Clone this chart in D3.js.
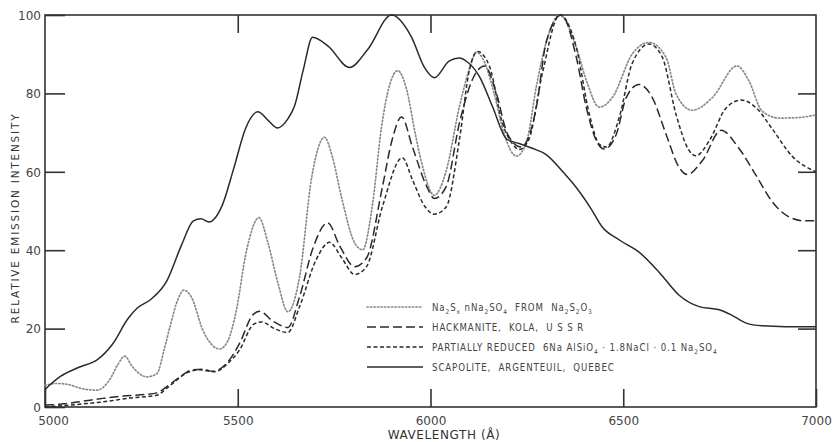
<!DOCTYPE html>
<html>
<head>
<meta charset="utf-8">
<script src="https://cdn.jsdelivr.net/npm/d3@7"></script>
<style>
  body { margin: 0; background: #fff; }
  svg { display: block; }
  .tick text { font-family: "DejaVu Sans", sans-serif; font-size: 12px; fill: #444; }
  .tick line { stroke: #333; stroke-width: 1.6; }
  .label { font-family: "DejaVu Sans", sans-serif; fill: #333; }
  .legend text { font-family: "DejaVu Sans Condensed", "DejaVu Sans", sans-serif; font-size: 9.6px; fill: #444; letter-spacing: 0.9px; }
</style>
</head>
<body>
<svg width="836" height="442"></svg>
<script>
// values, [wavelength in Å, relative intensity]
const scapolite = [
  [5000, 4.5], [5040, 7.8], [5090, 10.2], [5135, 12], [5175, 16], [5215, 22.5],
  [5240, 25.3], [5275, 27.5], [5315, 32], [5355, 41.5], [5385, 47.5], [5405, 48],
  [5425, 47.2], [5460, 51.5], [5490, 61], [5520, 71], [5552, 75.3], [5580, 73],
  [5603, 71.2], [5630, 73.5], [5648, 77], [5670, 86], [5694, 94.3], [5735, 92],
  [5790, 86.6], [5837, 91.2], [5899, 100], [5950, 94.5], [5985, 86.5], [6010, 84],
  [6049, 88.3], [6075, 89], [6093, 88.2], [6127, 84.3], [6161, 76.6], [6197, 68.4],
  [6230, 67.2], [6264, 66], [6300, 64.4], [6347, 59.6], [6370, 57], [6417, 50.5],
  [6445, 46], [6490, 42.6], [6541, 39.5], [6593, 34.4], [6645, 28.5], [6697, 25.6],
  [6749, 24.8], [6780, 23.5], [6819, 21.4], [6860, 20.7], [6920, 20.5], [7000, 20.5]
];

const sulfide = [
  [5000, 5.5], [5030, 6], [5057, 5.8], [5100, 4.6], [5135, 4.3], [5168, 7],
  [5190, 11], [5207, 13], [5225, 10.5], [5264, 7.7], [5290, 8.5], [5310, 15],
  [5324, 20.4], [5345, 27.5], [5360, 29.8], [5380, 28], [5410, 19.5], [5453, 14.8],
  [5475, 17], [5495, 24], [5523, 40], [5555, 48.3], [5578, 42], [5604, 31.7],
  [5630, 24.3], [5660, 33], [5692, 58.7], [5725, 68.8], [5745, 64], [5769, 53.6],
  [5803, 41.9], [5824, 40.1], [5850, 52], [5873, 71.5], [5915, 85.8], [5938, 81],
  [5960, 70], [5977, 62.3], [6010, 54], [6040, 60], [6075, 76.6], [6100, 86],
  [6119, 90.5], [6140, 88], [6165, 80], [6190, 70], [6223, 64], [6250, 68],
  [6275, 82], [6300, 93], [6335, 100], [6378, 91.8], [6404, 83.4], [6438, 76.5],
  [6472, 79], [6523, 90], [6567, 93], [6611, 89.2], [6637, 79.8], [6679, 75.7],
  [6731, 78.9], [6795, 87], [6826, 83.2], [6860, 75.5], [6904, 73.7], [6950, 73.8],
  [7000, 74.5]
];

const hackmanite = [
  [5000, 0.5], [5050, 0.8], [5100, 1.5], [5150, 2.2], [5200, 2.8], [5260, 3.2],
  [5290, 3.6], [5316, 5.2], [5350, 7.7], [5383, 9.5], [5410, 9.6], [5435, 9.1],
  [5472, 11.2], [5505, 16.3], [5539, 23.5], [5557, 24.4], [5590, 22], [5630, 20.3],
  [5660, 28], [5695, 40.5], [5733, 47], [5765, 41], [5803, 35.8], [5834, 38],
  [5875, 56], [5900, 68], [5925, 74], [5953, 66.4], [5990, 56.3], [6010, 53.2],
  [6041, 56.3], [6075, 72.4], [6109, 83.6], [6140, 87], [6171, 80], [6199, 69.8],
  [6235, 66.3], [6275, 76.7], [6300, 93], [6340, 100], [6378, 89.3], [6404, 76.5],
  [6430, 68], [6451, 65.8], [6482, 69.6], [6508, 79], [6541, 82.3], [6575, 79],
  [6611, 69.6], [6645, 61.1], [6666, 59.3], [6705, 62.8], [6754, 70.6], [6800, 66],
  [6845, 59], [6886, 52.4], [6930, 48.5], [6970, 47.5], [7000, 47.5]
];

const reduced = [
  [5000, 0], [5100, 0.8], [5150, 1.3], [5220, 2.3], [5290, 3], [5316, 4.8],
  [5368, 8.7], [5400, 9.5], [5440, 9], [5475, 11.2], [5505, 14.6], [5540, 21],
  [5562, 21.7], [5595, 20], [5630, 19], [5660, 25.5], [5703, 37.5], [5738, 42],
  [5770, 38], [5803, 33.8], [5834, 35.8], [5875, 51], [5927, 63.6], [5953, 58],
  [5985, 51.2], [6010, 49.2], [6041, 51.1], [6075, 68.2], [6101, 86], [6122, 90.7],
  [6153, 86.9], [6187, 72.3], [6212, 67.2], [6230, 65.7], [6255, 68.2], [6290, 85],
  [6335, 100], [6378, 91.8], [6412, 74.7], [6438, 67], [6456, 66.3], [6490, 74],
  [6523, 87.6], [6567, 92.6], [6601, 89.3], [6637, 74.6], [6671, 65.4], [6689, 64.1],
  [6723, 67.9], [6767, 76.3], [6806, 78.3], [6845, 76.3], [6886, 71], [6938, 64],
  [7000, 60]
];

const xTicks = [5000, 5500, 6000, 6500, 7000];
const yTicks = [0, 20, 40, 60, 80, 100];

const svg = d3.select("svg");

const x = d3.scaleLinear().domain([5000, 7000]).range([45, 816]);
const y = d3.scaleLinear().domain([0, 100]).range([407, 15]);

// inward ticks on all four sides
svg.append("g")
  .attr("transform", "translate(45,0)")
  .call(d3.axisLeft(y).tickValues(yTicks).tickSize(-20).tickSizeOuter(0).tickPadding(4))
  .call(g => g.select(".domain").remove())
  .call(g => g.selectAll(".tick text").attr("dy", "0.36em"));

svg.append("g")
  .attr("transform", "translate(816,0)")
  .call(d3.axisRight(y).tickValues([20, 40, 60, 80]).tickSize(-18).tickFormat(""))
  .call(g => g.select(".domain").remove());

svg.append("g")
  .attr("transform", "translate(0,407)")
  .call(d3.axisBottom(x).tickValues(xTicks).tickSize(-18).tickSizeOuter(0).tickPadding(9).tickFormat(d3.format("d")))
  .call(g => g.select(".domain").remove())
  .call(g => g.selectAll(".tick text").filter(d => d === 5000).attr("dx", 8));

svg.append("g")
  .attr("transform", "translate(0,15)")
  .call(d3.axisTop(x).tickValues([5500, 6000, 6500]).tickSize(-18).tickFormat(""))
  .call(g => g.select(".domain").remove());

// frame
svg.append("rect")
  .attr("x", 45).attr("y", 15)
  .attr("width", 816 - 45).attr("height", 407 - 15)
  .attr("fill", "none").attr("stroke", "#333").attr("stroke-width", 1.6);

// axis titles
svg.append("text")
  .attr("class", "label")
  .attr("x", 444).attr("y", 439)
  .attr("text-anchor", "middle")
  .style("font-size", "12px")
  .style("letter-spacing", "0.6px")
  .text("WAVELENGTH (Å)");

svg.append("text")
  .attr("class", "label")
  .attr("transform", "translate(19,218) rotate(-90)")
  .attr("text-anchor", "middle")
  .style("font-size", "10.5px")
  .style("letter-spacing", "1.8px")
  .text("RELATIVE EMISSION  INTENSITY");

const line = d3.line()
  .curve(d3.curveMonotoneX)
  .x(d => x(d[0]))
  .y(d => y(d[1]));

const series = [
  {data: sulfide,    stroke: "#8a8a8a", dash: "1.3,2.2", width: 1.7, cap: "round"},
  {data: hackmanite, stroke: "#2a2a2a", dash: "9,4",     width: 1.5, cap: "butt"},
  {data: reduced,    stroke: "#2a2a2a", dash: "4,2.5",   width: 1.5, cap: "butt"},
  {data: scapolite,  stroke: "#2a2a2a", dash: null,      width: 1.5, cap: "butt"}
];

svg.append("g").selectAll("path")
  .data(series)
  .join("path")
  .attr("d", d => line(d.data))
  .attr("fill", "none")
  .attr("stroke", d => d.stroke)
  .attr("stroke-width", d => d.width)
  .attr("stroke-linecap", d => d.cap)
  .attr("stroke-dasharray", d => d.dash);

// legend
const legendRows = [0, 1, 2, 3];
const legend = svg.append("g").attr("class", "legend");
const rowY = i => 307 + i * 20;

legend.selectAll("line")
  .data(series)
  .join("line")
  .attr("x1", 367).attr("x2", 423)
  .attr("y1", (d, i) => rowY(i)).attr("y2", (d, i) => rowY(i))
  .attr("stroke", d => d.stroke)
  .attr("stroke-width", d => d.width)
  .attr("stroke-linecap", d => d.cap)
  .attr("stroke-dasharray", d => d.dash);

// each label: list of [text, isSubscript]
const legendLabels = [
  [["Na", 0], ["2", 1], ["S", 0], ["x", 1], [" nNa", 0], ["2", 1], ["SO", 0], ["4", 1], ["  FROM  Na", 0], ["2", 1], ["S", 0], ["2", 1], ["O", 0], ["3", 1]],
  [["HACKMANITE,  KOLA,  U S S R", 0]],
  [["PARTIALLY REDUCED  6Na AlSiO", 0], ["4", 1], [" · 1.8NaCl · 0.1 Na", 0], ["2", 1], ["SO", 0], ["4", 1]],
  [["SCAPOLITE,  ARGENTEUIL,  QUEBEC", 0]]
];

legendRows.forEach(i => {
  const t = legend.append("text")
    .attr("x", 432).attr("y", rowY(i) + 4)
    .attr("xml:space", "preserve")
    .style("white-space", "pre");
  let sub = false;
  legendLabels[i].forEach(([s, isSub]) => {
    const dy = isSub && !sub ? 2.5 : (!isSub && sub ? -2.5 : 0);
    t.append("tspan")
      .attr("dy", dy)
      .style("font-size", isSub ? "6.5px" : null)
      .text(s);
    sub = !!isSub;
  });
});
</script>
</body>
</html>
